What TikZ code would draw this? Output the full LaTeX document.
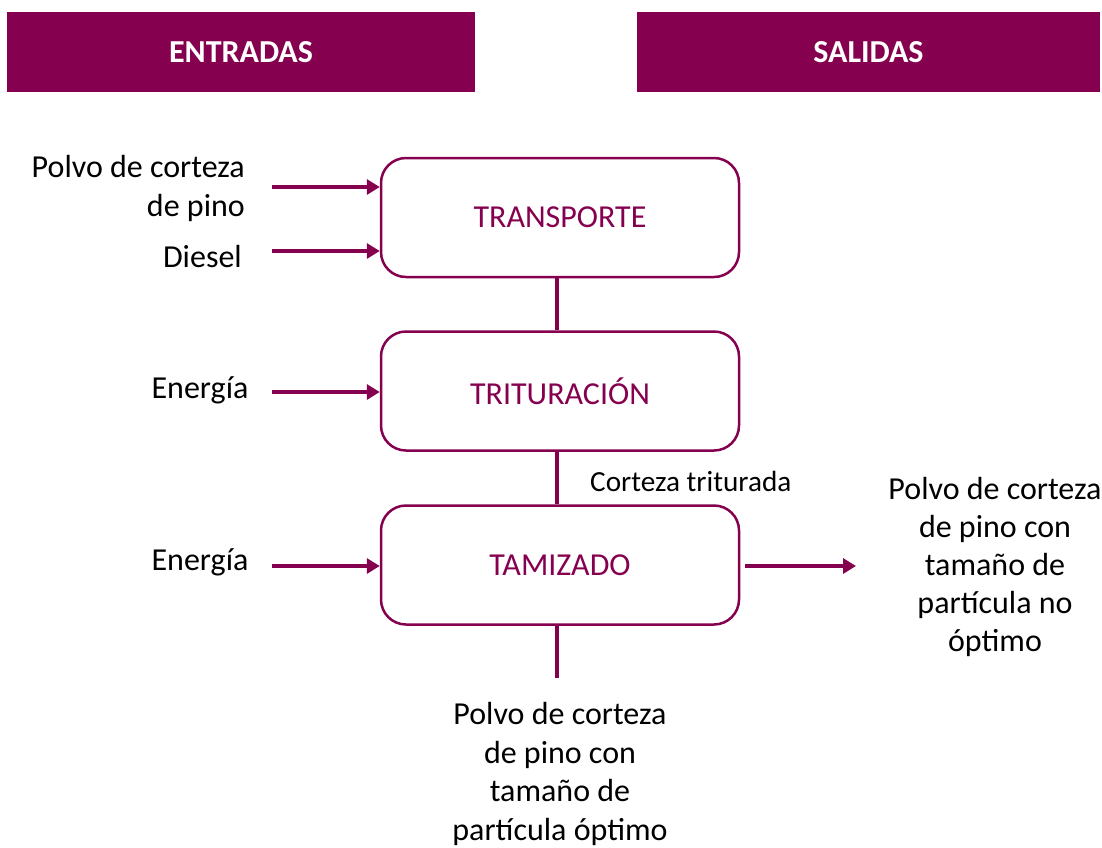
\documentclass[tikz,border=0pt]{standalone}
\usepackage{fontspec}
\setmainfont{Carlito}
\usetikzlibrary{arrows.meta}
\definecolor{vino}{RGB}{133,0,79}
\begin{document}
\begin{tikzpicture}[x=1pt,y=-1pt,
  txt/.style={inner sep=0pt,font=\fontsize{32}{39}\selectfont},
  hdr/.style={fill=vino,inner sep=0pt,text=white,font=\fontsize{32}{39}\selectfont\bfseries},
  proc/.style={draw=vino,line width=2.5pt,rounded corners=25pt,minimum width=358pt,minimum height=119pt,inner sep=0pt,text=vino,font=\fontsize{32}{39}\selectfont},
  link/.style={draw=vino,line width=4pt},
  flow/.style={draw=vino,line width=4pt,-{Triangle[length=13pt,width=15pt]}}]
\useasboundingbox (0,0) rectangle (1102,847);
% headers
\node[hdr,minimum width=468pt,minimum height=80pt] (hin) at (241,52) {ENTRADAS};
\node[hdr,minimum width=463pt,minimum height=80pt] (hout) at (868.5,52) {SALIDAS};
% process boxes
\node[proc] (t) at (560,217.5) {TRANSPORTE};
\node[proc] (tr) at (560,391) {TRITURACIÓN};
\node[proc] (tm) at (560,565) {TAMIZADO};
% vertical links
\coordinate (bot) at (557,678);
\draw[link] (t.south -| bot) -- (tr.north -| bot);
\draw[link] (tr.south -| bot) -- (tm.north -| bot);
\draw[link] (tm.south -| bot) -- (bot);
% inputs
\node[txt,align=right,anchor=east] (polvo) at (245,188) {Polvo de corteza\\de pino};
\node[txt,anchor=east] (diesel) at (242,256) {Diesel};
\node[txt] (en1) at (200,390) {Energía};
\node[txt] (en2) at (200,562) {Energía};
\coordinate (a1) at (272,187);
\coordinate (a2) at (272,251);
\coordinate (a3) at (272,392);
\coordinate (a4) at (272,566);
\draw[flow] (a1) -- (a1 -| t.west);
\draw[flow] (a2) -- (a2 -| t.west);
\draw[flow] (a3) -- (a3 -| tr.west);
\draw[flow] (a4) -- (a4 -| tm.west);
% intermediate
\node[txt,anchor=west,font=\fontsize{29.2}{34}\selectfont] (ct) at (590,481) {Corteza triturada};
% outputs
\coordinate (o1) at (745,566);
\coordinate (o2) at (856,566);
\draw[flow] (o1) -- (o2);
\node[txt,align=center,font=\fontsize{32}{38}\selectfont] (out1) at (995,567) {Polvo de corteza\\de pino con\\tamaño de\\partícula no\\óptimo};
\node[txt,align=center,font=\fontsize{32}{38.5}\selectfont] (out2) at (560,774) {Polvo de corteza\\de pino con\\tamaño de\\partícula óptimo};
\end{tikzpicture}
\end{document}
